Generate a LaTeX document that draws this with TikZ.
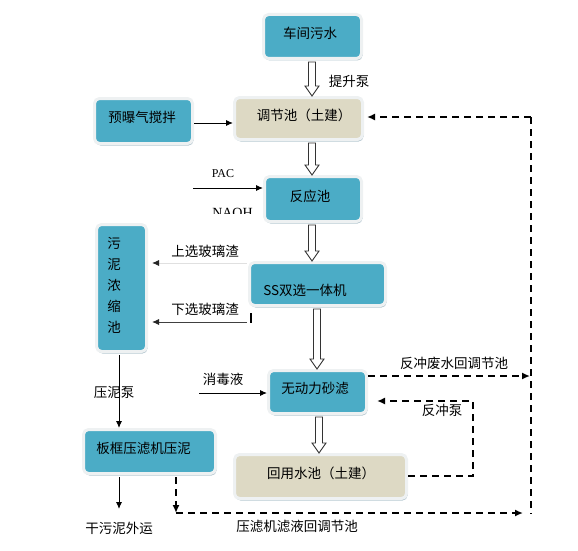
\documentclass[tikz,border=0pt]{standalone}
\usepackage{fontspec}
\setmainfont{Liberation Serif}
\newfontfamily\cjk{Noto Sans CJK SC}
\usetikzlibrary{arrows.meta,shadows,calc}
\definecolor{boxblue}{HTML}{4BACC6}
\definecolor{boxbeige}{HTML}{DDD9C4}
\definecolor{boxrim}{HTML}{EEF1F2}
\definecolor{shadowc}{HTML}{B2C5CE}
\newcommand\hollowarr[3]{%
  \draw[harr] let \p1=(#2.south), \p2=(#3.north) in
    (#1pt-3.5pt,\y1-2pt) -- (#1pt+3.5pt,\y1-2pt) -- (#1pt+3.5pt,\y2+10pt)
    -- (#1pt+7pt,\y2+10pt) -- (#1pt,\y2) -- (#1pt-7pt,\y2+10pt)
    -- (#1pt-3.5pt,\y2+10pt) -- cycle;}
\begin{document}
\begin{tikzpicture}[x=1pt,y=-1pt,
  box/.style={rounded corners=5pt, draw=boxrim, line width=3pt, inner sep=0pt,
    drop shadow={shadow xshift=1pt,shadow yshift=-2pt,fill=shadowc,opacity=1}},
  bluebox/.style={box, fill=boxblue},
  beigebox/.style={box, fill=boxbeige},
  txt/.style={font=\cjk\fontsize{13.5}{16}\selectfont, inner sep=0pt},
  arr/.style={line width=0.9pt, -{Latex[length=7pt,width=6pt]}},
  dsh/.style={line width=1.8pt, dash pattern=on 7pt off 5pt},
  darr/.style={dsh, -{Latex[length=8pt,width=7pt]}},
  harr/.style={draw=black!80, line width=0.9pt, fill=white}
]
\useasboundingbox (0,0) rectangle (578,551);

% boxes
\node[bluebox, minimum width=98pt, minimum height=44pt] (cj) at (312.5,36.5) {};
\node[beigebox, minimum width=128pt, minimum height=42pt] (tj) at (298.5,118.5) {};
\node[bluebox, minimum width=98pt, minimum height=45pt] (yb) at (143.5,121) {};
\node[bluebox, minimum width=97pt, minimum height=45pt] (fy) at (313,199) {};
\node[bluebox, minimum width=136pt, minimum height=43pt] (ss) at (317.5,284) {};
\node[bluebox, minimum width=50pt, minimum height=127pt] (wn) at (121.5,288) {};
\node[bluebox, minimum width=98pt, minimum height=43pt] (wd) at (317.5,392) {};
\node[beigebox, minimum width=172pt, minimum height=44pt] (hy) at (320.5,476.5) {};
\node[bluebox, minimum width=132pt, minimum height=44pt] (bk) at (149.5,451.5) {};

% box texts
\node[txt] (tcj) at (310,33) {车间污水};
\node[txt] (ttj) at (304,115) {调节池（土建）};
\node[txt] (tyb) at (142,117) {预曝气搅拌};
\node[txt] (tfy) at (310,196) {反应池};
\node[txt] (tss) at (305,290) {SS双选一体机};
\node[txt, align=center, font=\cjk\fontsize{13.5}{21}\selectfont] (twn) at (114,285) {污\\泥\\浓\\缩\\池};
\node[txt] (twd) at (315,388) {无动力砂滤};
\node[txt] (thy) at (321,473) {回用水池（土建）};
\node[txt] (tbk) at (143.5,448) {板框压滤机压泥};

% labels
\node[txt] (l1) at (349,81) {提升泵};
\node[inner sep=0pt, font=\fontsize{12}{14}\selectfont] (lpac) at (223,174) {PAC};
\begin{scope}
  \clip (200,200) rectangle (262,213.8);
  \node[inner sep=0pt, anchor=base, font=\fontsize{14}{16}\selectfont] (lnaoh) at (232.5,217.3) {NAOH};
\end{scope}
\node[txt] (l2) at (205,251) {上选玻璃渣};
\node[txt] (l3) at (205,309) {下选玻璃渣};
\node[txt] (l4) at (223,379) {消毒液};
\node[txt] (l5) at (454,363) {反冲废水回调节池};
\node[txt] (l6) at (442,410) {反冲泵};
\node[txt] (l7) at (114,392) {压泥泵};
\node[txt] (l8) at (119,528) {干污泥外运};
\node[txt] (l9) at (297,526) {压滤机滤液回调节池};

% hollow arrows
\hollowarr{312}{cj}{tj}
\hollowarr{312}{tj}{fy}
\hollowarr{312}{fy}{ss}
\hollowarr{317}{ss}{wd}
\hollowarr{319}{wd}{hy}

% coordinates
\coordinate (pacS) at (193,188);
\coordinate (s1) at (247,263);
\coordinate (s2) at (247,322);
\coordinate (xd) at (199,393);
\coordinate (wx) at (119,355);
\coordinate (gx) at (119,509);
\coordinate (R1) at (531,117);
\coordinate (R2) at (531,514);
\coordinate (R3) at (531,376);
\coordinate (fc1) at (473,476);
\coordinate (fc2) at (473,401);
\coordinate (b1) at (176,513);
\coordinate (tk1) at (251,313);
\coordinate (tk2) at (251,323);

% solid arrows
\draw[arr] (yb.east |- 0,123) -- (tj.west |- 0,123);
\draw[arr] (pacS) -- (pacS -| fy.west);
\draw[line width=0.9pt, draw=black!12, -{Latex[length=7pt,width=6pt,color=black!85]}, shorten >=4pt] (s1) -- (s1 -| wn.east);
\draw[line width=0.9pt, draw=black!75, -{Latex[length=7pt,width=6pt,color=black!85]}, shorten >=4pt] (s2) -- (s2 -| wn.east);
\draw[line width=1.5pt] (tk1) -- (tk2);
\draw[arr] (xd) -- (xd -| wd.west);
\draw[arr, shorten <=2pt] (wx |- wn.south) -- (wx |- bk.north);
\draw[arr, shorten <=2pt] (gx |- bk.south) -- (gx);

% dashed connectors
\draw[darr, shorten >=3pt] (R1) -- (R1 -| tj.east);
\draw[dsh] (R1) -- (R2);
\draw[darr, shorten >=1pt] (R3 -| wd.east) -- (R3);
\draw[darr, shorten >=9pt] (hy.east |- fc1) -- (fc1) -- (fc2) -- (fc2 -| wd.east);
\draw[darr, shorten <=2pt] (b1 |- bk.south) -- (b1);
\draw[darr, shorten >=8pt] (b1) -- (b1 -| R2);
\end{tikzpicture}
\end{document}
